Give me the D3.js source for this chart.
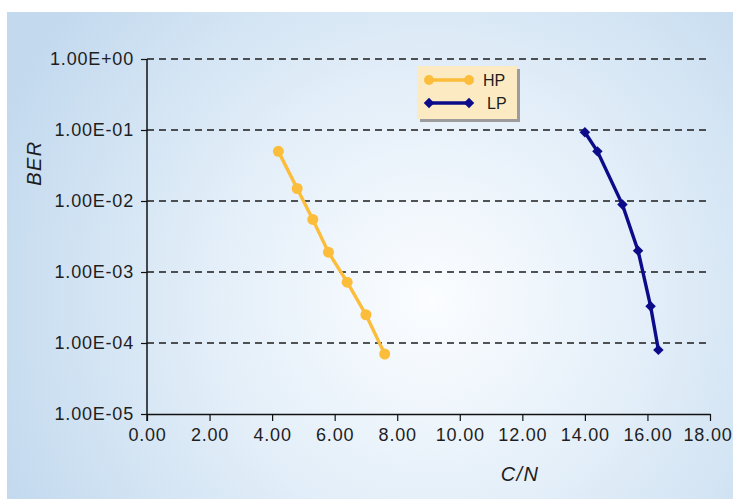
<!DOCTYPE html>
<html>
<head>
<meta charset="utf-8">
<title>BER vs C/N</title>
<script src="https://cdn.jsdelivr.net/npm/d3@7"></script>
<style>
  body { margin: 0; background: #fff; }
  text { font-family: "Liberation Sans", Arial, sans-serif; fill: #1e1e1e; }
  .tick text { font-size: 18px; letter-spacing: 0.8px; }
  .title { font-size: 20px; font-style: italic; letter-spacing: 1.4px; }
  .legend text { font-size: 16px; }
</style>
</head>
<body>
<div id="chart"></div>
<script>
// data
var hpCN  = [4.2, 4.8, 5.3, 5.8, 6.4, 7.0, 7.6];
var hpBER = [5.0e-2, 1.5e-2, 5.5e-3, 1.9e-3, 7.2e-4, 2.5e-4, 7.0e-5];
var lpCN  = [14.0, 14.4, 15.2, 15.7, 16.1, 16.35];
var lpBER = [9.3e-2, 5.0e-2, 8.9e-3, 2.0e-3, 3.3e-4, 8.0e-5];
var xTicks = [0, 2, 4, 6, 8, 10, 12, 14, 16, 18];
var yTicks = [1e-5, 1e-4, 1e-3, 1e-2, 1e-1, 1];
var seriesNames = ["HP", "LP"];

var width = 733, height = 499;
var plotLeft = 147, plotRight = 710, plotTop = 59, plotBottom = 414;

var svg = d3.select("#chart").append("svg")
    .attr("width", width)
    .attr("height", height);

var defs = svg.append("defs");
var grad = defs.append("radialGradient")
    .attr("id", "bg")
    .attr("gradientUnits", "userSpaceOnUse")
    .attr("cx", 430).attr("cy", 300).attr("r", 470);
grad.append("stop").attr("offset", "0%").attr("stop-color", "#fbfdff");
grad.append("stop").attr("offset", "45%").attr("stop-color", "#e4eff9");
grad.append("stop").attr("offset", "100%").attr("stop-color", "#c2d9ee");

svg.append("rect")
    .attr("x", 7).attr("y", 12)
    .attr("width", width - 7).attr("height", height - 12)
    .attr("fill", "url(#bg)");

var x = d3.scaleLinear().domain([0, 18]).range([plotLeft, plotRight]);
var y = d3.scaleLog().domain([1e-5, 1]).range([plotBottom, plotTop]);

function sci(v) {
  var e = Math.round(Math.log10(v));
  return "1.00E" + (e < 0 ? "-" : "+") + String(Math.abs(e)).padStart(2, "0");
}

// dashed gridlines
svg.append("g")
    .selectAll("line")
    .data(yTicks.filter(function(d) { return d > 1e-5; }))
    .enter().append("line")
    .attr("x1", plotLeft).attr("x2", plotRight)
    .attr("y1", function(d) { return y(d); })
    .attr("y2", function(d) { return y(d); })
    .attr("stroke", "#1c1c1c")
    .attr("stroke-width", 1.4)
    .attr("stroke-dasharray", "7,5");

var xAxis = svg.append("g")
    .attr("transform", "translate(0," + plotBottom + ")")
    .call(d3.axisBottom(x).tickValues(xTicks).tickFormat(d3.format(".2f"))
      .tickSize(7).tickSizeOuter(0).tickPadding(7));

var yAxis = svg.append("g")
    .attr("transform", "translate(" + plotLeft + ",0)")
    .call(d3.axisLeft(y).tickValues(yTicks).tickFormat(sci)
      .tickSize(6).tickSizeOuter(0).tickPadding(7));

[xAxis, yAxis].forEach(function(a) {
  a.select(".domain").attr("stroke", "#111").attr("stroke-width", 1.5);
  a.selectAll(".tick line").attr("stroke", "#111").attr("stroke-width", 1.2);
  a.selectAll(".tick text").attr("fill", "#1e1e1e");
});
yAxis.select(".domain").attr("d", "M0," + plotTop + "V" + (plotBottom + 7));
// last label sits against the right edge
xAxis.selectAll(".tick text").filter(function(d) { return d === 18; })
    .attr("text-anchor", "end").attr("x", 22);

svg.append("text")
    .attr("class", "title")
    .attr("x", 520).attr("y", 481)
    .attr("text-anchor", "middle")
    .text("C/N");

svg.append("text")
    .attr("class", "title")
    .attr("transform", "translate(41,163) rotate(-90)")
    .attr("text-anchor", "middle")
    .text("BER");

var line = d3.line()
    .x(function(d) { return x(d[0]); })
    .y(function(d) { return y(d[1]); });

var hp = d3.zip(hpCN, hpBER);
var lp = d3.zip(lpCN, lpBER);
var hpColor = "#fcbd3b", lpColor = "#0c0c8a";

svg.append("path").datum(hp)
    .attr("d", line).attr("fill", "none")
    .attr("stroke", hpColor).attr("stroke-width", 3.4);
svg.append("g").selectAll("circle").data(hp).enter().append("circle")
    .attr("cx", function(d) { return x(d[0]); })
    .attr("cy", function(d) { return y(d[1]); })
    .attr("r", 5.5).attr("fill", hpColor);

var diamond = d3.symbol().type(d3.symbolDiamond2).size(70);
svg.append("path").datum(lp)
    .attr("d", line).attr("fill", "none")
    .attr("stroke", lpColor).attr("stroke-width", 3.4);
svg.append("g").selectAll("path").data(lp).enter().append("path")
    .attr("d", diamond)
    .attr("transform", function(d) { return "translate(" + x(d[0]) + "," + y(d[1]) + ")"; })
    .attr("fill", lpColor);

// legend
var lg = svg.append("g").attr("class", "legend");
lg.append("rect").attr("x", 420).attr("y", 69).attr("width", 100).attr("height", 53).attr("fill", "#9c9c9c");
lg.append("rect").attr("x", 417).attr("y", 66).attr("width", 100).attr("height", 53).attr("fill", "#fcebc2");

var rows = lg.selectAll("g.row").data(seriesNames).enter().append("g")
    .attr("class", "row")
    .attr("transform", function(d, i) { return "translate(0," + (80 + i * 23) + ")"; });
rows.append("line")
    .attr("x1", 429).attr("x2", 469)
    .attr("stroke", function(d, i) { return i ? lpColor : hpColor; })
    .attr("stroke-width", 3.4);
rows.each(function(d, i) {
  var g = d3.select(this);
  [429, 469].forEach(function(px) {
    if (i === 0) {
      g.append("circle").attr("cx", px).attr("cy", 0).attr("r", 5).attr("fill", hpColor);
    } else {
      g.append("path").attr("d", diamond).attr("transform", "translate(" + px + ",0)").attr("fill", lpColor);
    }
  });
});
rows.append("text")
    .attr("x", function(d, i) { return i ? 487 : 483; })
    .attr("y", 6)
    .text(function(d) { return d; });
</script>
</body>
</html>
